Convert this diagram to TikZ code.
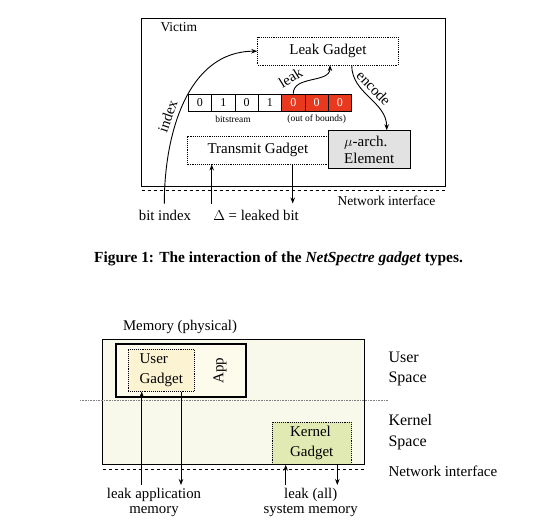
\documentclass[tikz,border=0pt]{standalone}
\usepackage{fontspec}
\setmainfont{Liberation Serif}
\usetikzlibrary{arrows.meta,positioning}
\definecolor{bitred}{HTML}{E8381E}
\definecolor{archgray}{HTML}{E2E2E2}
\definecolor{memfill}{HTML}{F8F9EA}
\definecolor{appfill}{HTML}{FDFBEC}
\definecolor{ugfill}{HTML}{FBF3D2}
\definecolor{kgfill}{HTML}{E2EAB4}

\begin{document}
\begin{tikzpicture}[x=1pt, y=-1pt,
  gadget/.style={draw, densely dotted, line width=0.9pt, inner sep=0pt,
                 font=\fontsize{15}{17}\selectfont},
  cell/.style={draw, line width=0.8pt, minimum width=23.3pt, minimum height=17.7pt,
               inner sep=0pt, font=\fontsize{12}{13}\selectfont},
  redcell/.style={cell, fill=bitred, text=white},
  lbl/.style={font=\fontsize{14.8}{16}\selectfont, align=center},
  small/.style={font=\fontsize{9.5}{10}\selectfont},
  ar/.style={-{Stealth[length=6pt,width=4.5pt]}, line width=0.9pt},
]
  \useasboundingbox (0,0) rectangle (554,531);
  % victim
  \node[draw, line width=0.9pt, minimum width=303.3pt, minimum height=167.7pt,
        inner sep=0pt] (victim) at (293.3,102.2) {};
  \node[lbl, anchor=west, font=\fontsize{13.5}{15}\selectfont] (vname) at (157,27) {Victim};
  \node[gadget, minimum width=140.3pt, minimum height=27.7pt] (leak) at (327.9,51.2) {Leak Gadget};
  \node[gadget, minimum width=140.3pt, minimum height=28pt] (transmit) at (257.9,150) {Transmit Gadget};
  \node[draw, fill=archgray, line width=0.9pt, minimum width=81.7pt, minimum height=37.6pt,
        inner sep=0pt, align=left, font=\fontsize{15}{17}\selectfont] (arch) at (369.2,149.5)
        {$\mu$-arch.\\Element};
  % bitstream
  \foreach \b [count=\i] in {0,1,0,1} {
    \node[cell] (c\i) at ({188.3+11.67+23.33*(\i-1)},102.8) {\b};
  }
  \foreach \i in {5,6,7} {
    \node[redcell] (c\i) at ({188.3+11.67+23.33*(\i-1)},102.8) {0};
  }
  \node[small] (bits) at (233,119.5) {bitstream};
  \node[small] (oob) at (316.7,119.5) {(out of bounds)};
  % network interface
  \draw[dashed, line width=0.9pt] (141.7,190.7) coordinate (nl) -- (445,190.7) coordinate (nr);
  \node[lbl, font=\fontsize{13.5}{15}\selectfont] (net) at (386.5,200.5) {Network interface};
  \node[lbl] (bitidx) at (165,215.5) {bit index};
  \node[lbl] (delta) at (256,215.5) {$\Delta$ = leaked bit};
  \coordinate (idxin) at (164.3,203.5);
  \coordinate (tin) at (211.7,203.5);
  \coordinate (tout) at (292.7,203.5);
  \draw[ar] (idxin) to[out=90, in=180] node[pos=0.4, sloped, above=1pt, lbl] {index} (leak.west);
  \draw[ar] (tin) -- (tin |- transmit.south);
  \draw[ar] (tout |- transmit.south) -- (tout);
  \draw[ar] (c5.north) to[out=90, in=-90] node[pos=0.25, sloped, above=1pt, lbl, xshift=-4pt] {leak}
        (330,65.1);
  \draw[ar] (351.7,65.1) to[out=-90, in=90] node[pos=0.45, sloped, above=1pt, lbl] {encode}
        (arch.north -| 386.7,0);
  % caption
  \node[font=\fontsize{15.4}{17}\selectfont\bfseries] (cap) at (278.5,258.5)
        {Figure 1: The interaction of the \textit{NetSpectre gadget} types.};
  % memory
  \node[lbl] (memname) at (180,326.5) {Memory (physical)};
  \node[draw, fill=memfill, line width=0.9pt, minimum width=261.3pt, minimum height=125.3pt,
        inner sep=0pt] (mem) at (233.3,401.7) {};
  \node[draw, fill=appfill, line width=1.8pt, minimum width=130.3pt, minimum height=52.4pt,
        inner sep=0pt] (app) at (180.8,370.5) {};
  \node[lbl, rotate=90, font=\fontsize{15}{16}\selectfont] (appname) at (220,370.5) {App};
  \node[gadget, fill=ugfill, minimum width=66pt, minimum height=41.7pt, align=left,
        font=\fontsize{15}{20}\selectfont] (ugadget) at (161.3,370.2) {User\\Gadget};
  \node[gadget, fill=kgfill, minimum width=78.7pt, minimum height=42pt, align=left,
        font=\fontsize{15}{20}\selectfont] (kgadget) at (311.7,443.3) {Kernel\\Gadget};
  \draw[densely dotted, line width=0.6pt, gray] (80,400.7) coordinate (sl) -- (388,400.7) coordinate (sr);
  \node[lbl, align=left, anchor=west, font=\fontsize{16}{20.5}\selectfont] (uspace) at (385,369) {User\\Space};
  \node[lbl, align=left, anchor=west, font=\fontsize{16}{20.5}\selectfont] (kspace) at (385,432) {Kernel\\Space};
  \draw[dashed, line width=0.9pt] (102.7,469.3) coordinate (ml) -- (364,469.3) coordinate (mr);
  \node[lbl, anchor=west, font=\fontsize{15}{15}\selectfont] (net2) at (385,471) {Network interface};
  \node[lbl, font=\fontsize{14.8}{15}\selectfont] (appleak) at (154,502) {leak application\\memory};
  \node[lbl, font=\fontsize{14.8}{15}\selectfont] (sysleak) at (310.7,502) {leak (all)\\system memory};
  \coordinate (uin) at (141.7,485);
  \coordinate (uout) at (181,485);
  \coordinate (kin) at (285.7,485);
  \coordinate (kout) at (337.3,485);
  \draw[ar] (uin) -- (uin |- ugadget.south);
  \draw[ar] (uout |- ugadget.south) -- (uout);
  \draw[ar] (kin) -- (kin |- kgadget.south);
  \draw[ar] (kout |- kgadget.south) -- (kout);
\end{tikzpicture}
\end{document}
